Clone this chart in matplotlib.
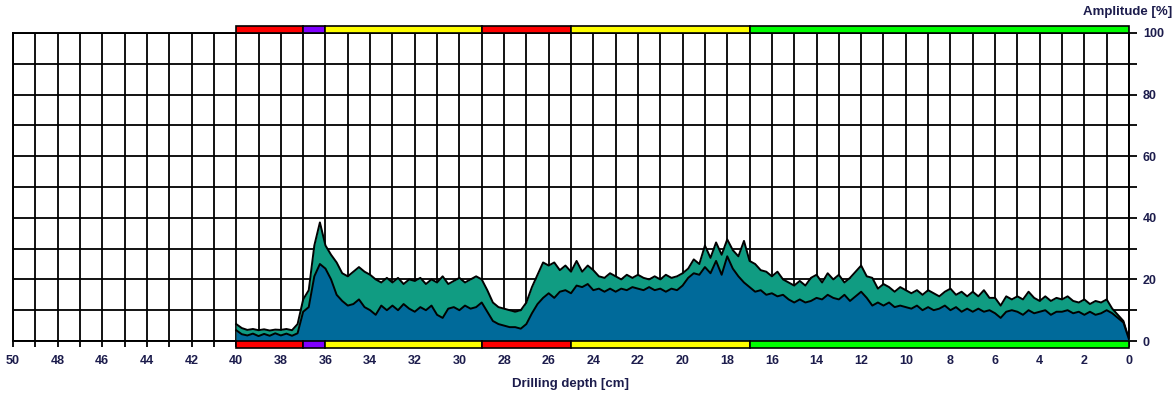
import numpy as np
import matplotlib.pyplot as plt
import matplotlib.transforms as mtransforms
from matplotlib.patches import Rectangle
from matplotlib.ticker import MultipleLocator

plt.rcParams['font.family'] = ['Liberation Sans', 'DejaVu Sans']

# drilling depth, sampled every 0.25 cm from 40 cm down to 0
depth = np.linspace(40, 0, 161)

# upper curve (teal area)
amp_upper = [
    5.5, 4.2, 3.6, 3.9,
    3.5, 3.8, 3.4, 3.7,
    3.6, 3.9, 3.5, 5.5,
    13.5, 16.5, 31.0, 38.5,
    31.0, 28.0, 25.5, 22.0,
    21.0, 22.5, 24.0, 22.5,
    21.5, 20.0, 19.0, 20.5,
    19.0, 20.5, 18.5, 20.0,
    19.5, 20.5, 18.5, 20.0,
    19.0, 21.0, 18.5, 19.5,
    20.5, 19.0, 20.0, 21.0,
    20.0, 16.5, 12.5, 11.0,
    10.5, 10.0, 9.5, 10.0,
    12.5, 17.5, 21.5, 25.5,
    24.5, 25.5, 23.0, 24.5,
    22.5, 26.0, 22.5, 24.5,
    23.0, 21.0, 20.5, 22.0,
    21.0, 20.0, 21.5, 20.5,
    21.5, 20.5, 20.0, 21.0,
    20.0, 21.5, 20.5, 21.0,
    22.0, 23.5, 26.5, 25.0,
    31.0, 27.0, 32.0, 28.0,
    33.0, 29.5, 27.5, 32.5,
    26.0, 25.0, 23.0, 22.5,
    21.0, 22.5, 20.0, 19.0,
    18.0, 19.5, 18.0, 20.5,
    21.5, 19.0, 22.0, 20.0,
    21.5, 19.0, 20.5, 22.5,
    24.5, 21.0, 20.5, 17.0,
    18.5, 17.5, 16.0, 17.5,
    16.5, 15.5, 16.5, 15.0,
    16.5, 15.5, 14.5, 16.0,
    17.0, 15.0, 16.0, 14.5,
    16.0, 14.5, 16.5, 14.0,
    14.0, 11.5, 14.5, 13.5,
    14.5, 13.5, 16.0, 14.0,
    13.0, 14.5, 13.0, 14.0,
    13.5, 14.5, 13.0, 12.5,
    13.5, 12.0, 13.0, 12.5,
    13.5, 10.5, 8.5, 6.5,
    0.5,
]

# lower curve (blue area)
amp_lower = [
    3.5, 2.2, 1.8, 2.4,
    1.6, 2.3, 1.7, 2.5,
    1.8, 2.4, 1.7, 2.5,
    9.5, 11.0, 21.0, 25.0,
    23.5, 20.0, 15.0, 13.0,
    11.5, 12.0, 13.5, 11.0,
    10.0, 8.5, 11.5, 10.0,
    11.5, 10.0, 12.0, 10.5,
    9.5, 11.0, 10.0, 11.5,
    8.5, 7.5, 10.5, 11.0,
    10.0, 11.5, 10.5, 11.0,
    12.5, 9.5, 6.5, 5.5,
    5.0, 4.5, 4.5, 4.0,
    5.5, 9.0, 12.0, 14.0,
    15.5, 14.0, 16.0, 16.5,
    15.5, 18.0, 17.5, 18.5,
    16.5, 17.0, 16.0, 17.0,
    16.0, 17.0, 16.5, 17.5,
    17.0, 16.5, 17.5, 16.5,
    17.0, 16.0, 17.0, 16.5,
    18.0, 20.5, 22.0, 21.5,
    24.0, 22.0, 26.0, 21.5,
    27.5, 23.5, 21.0, 19.0,
    17.5, 16.0, 16.5, 15.0,
    15.5, 14.5, 15.0, 13.5,
    12.5, 13.5, 12.5, 13.0,
    14.0, 13.5, 15.0, 14.0,
    13.5, 15.0, 13.0, 14.5,
    16.0, 14.0, 11.5, 12.5,
    11.5, 12.5, 11.0, 11.5,
    11.0, 10.5, 11.5, 10.0,
    11.0, 10.0, 10.5, 11.5,
    10.0, 11.0, 9.5, 10.5,
    9.5, 10.5, 9.5, 10.0,
    9.0, 7.5, 9.5, 10.0,
    9.5, 8.5, 10.0, 9.0,
    9.5, 10.0, 8.5, 9.5,
    9.5, 10.0, 9.0, 9.5,
    8.5, 9.5, 8.5, 9.0,
    10.0, 9.0, 7.5, 6.0,
    0.5,
]

# wood zones shown in the bars above and below the plot
zone_from = [40, 37, 36, 29, 25, 17]
zone_to = [37, 36, 29, 25, 17, 0]
zone_colors = ['#ff0000', '#8000ff', '#ffff00', '#ff0000', '#ffff00', '#00ff00']

teal = '#109c82'
blue = '#006a9a'
label_color = '#1c1c4c'

fig = plt.figure(figsize=(11.75, 3.96), dpi=100)
ax = fig.add_axes([13 / 1175, 55 / 396, 1116 / 1175, 308 / 396])

ax.fill_between(depth, 0, amp_upper, color=teal, lw=0, zorder=2)
ax.plot(depth, amp_upper, color='black', lw=1.4, zorder=3)
ax.fill_between(depth, 0, amp_lower, color=blue, lw=0, zorder=4)
ax.plot(depth, amp_lower, color='black', lw=1.4, zorder=5)

ax.set_xlim(50, 0)
ax.set_ylim(0, 100)
ax.xaxis.set_major_locator(MultipleLocator(2))
ax.xaxis.set_minor_locator(MultipleLocator(1))
ax.yaxis.set_major_locator(MultipleLocator(20))
ax.yaxis.set_minor_locator(MultipleLocator(10))
ax.set_axisbelow(True)
ax.grid(which='both', color='black', lw=1.3)

ax.yaxis.tick_right()
ax.tick_params(axis='y', which='both', direction='out', length=6, width=1.3,
               colors='black', labelcolor=label_color, pad=4)
ax.tick_params(axis='x', which='both', direction='out', length=4, width=1.3,
               colors='black', labelcolor=label_color, pad=6)
for lbl in ax.get_xticklabels() + ax.get_yticklabels():
    lbl.set_fontsize(9)
    lbl.set_fontweight('bold')

for spine in ax.spines.values():
    spine.set_linewidth(1.4)

# zone bars drawn just outside the top and bottom edges
trans = mtransforms.blended_transform_factory(ax.transData, ax.transAxes)
bar_h = 7 / 308
for x0, x1, c in zip(zone_from, zone_to, zone_colors):
    for y0 in (1.0, -bar_h):
        ax.add_patch(Rectangle((x0, y0), x1 - x0, bar_h, transform=trans,
                               facecolor=c, edgecolor='black', lw=1.2,
                               clip_on=False, zorder=6))

ax.set_xlabel('Drilling depth [cm]', fontsize=9.5, fontweight='bold',
              color=label_color, labelpad=8)
fig.text(1172 / 1175, 1 - 12 / 396, 'Amplitude [%]', ha='right', va='center',
         fontsize=9.5, fontweight='bold', color=label_color)

fig.savefig('out.png', dpi=100)
